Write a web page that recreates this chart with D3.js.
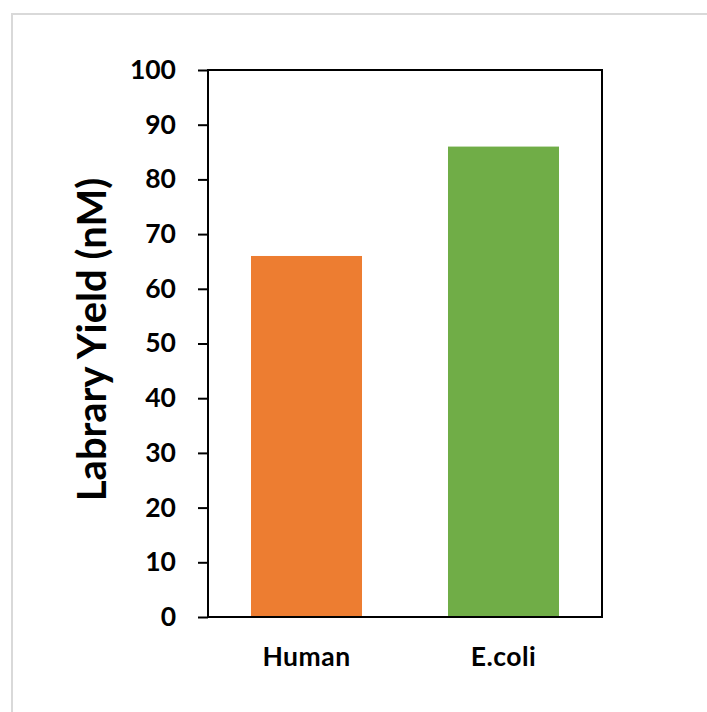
<!DOCTYPE html>
<html>
<head>
<meta charset="utf-8">
<script src="https://cdn.jsdelivr.net/npm/d3@7"></script>
<style>
  html, body { margin: 0; padding: 0; background: #fff; }
  svg { display: block; }
  text { font-family: Lato, "Open Sans", sans-serif; font-weight: bold; fill: #000; }
</style>
</head>
<body>
<script>
const categories = ["Human", "E.coli"];
const values = [66, 86];
const barColors = ["#ED7D31", "#70AD47"];
const yTicks = [0, 10, 20, 30, 40, 50, 60, 70, 80, 90, 100];
const yTitle = "Labrary Yield (nM)";

const W = 707, H = 712;
const plot = { left: 208, right: 602, top: 70, bottom: 617 };

const svg = d3.select("body").append("svg").attr("width", W).attr("height", H);

// outer chart border
svg.append("rect")
  .attr("x", 12).attr("y", 14).attr("width", W).attr("height", H)
  .attr("fill", "#fff").attr("stroke", "#d9d9d9").attr("stroke-width", 2);

const x = d3.scaleBand().domain(categories)
  .range([plot.left, plot.right])
  .paddingInner(0.4365).paddingOuter(0.21825);
const y = d3.scaleLinear().domain([0, 100]).range([plot.bottom, plot.top]);

// bars
svg.selectAll("rect.bar").data(categories).enter().append("rect")
  .attr("class", "bar")
  .attr("x", d => x(d))
  .attr("width", x.bandwidth())
  .attr("y", (d, i) => y(values[i]))
  .attr("height", (d, i) => y(0) - y(values[i]))
  .attr("fill", (d, i) => barColors[i]);

// frame
svg.append("rect")
  .attr("x", plot.left).attr("y", plot.top)
  .attr("width", plot.right - plot.left).attr("height", plot.bottom - plot.top)
  .attr("fill", "none").attr("stroke", "#000").attr("stroke-width", 2);

// y axis
const yAxis = d3.axisLeft(y).tickValues(yTicks).tickSize(10).tickPadding(22).tickSizeOuter(0);
const gy = svg.append("g").attr("transform", `translate(${plot.left},0)`).call(yAxis);
gy.select(".domain").remove();
gy.selectAll(".tick line").attr("stroke", "#000").attr("stroke-width", 2);
gy.selectAll(".tick text").style("font-size", "26.5px").style("font-family", "Lato, sans-serif").style("font-weight", "bold");

// x axis labels
const xAxis = d3.axisBottom(x).tickSize(0).tickPadding(30);
const gx = svg.append("g").attr("transform", `translate(0,${plot.bottom})`).call(xAxis);
gx.select(".domain").remove();
gx.selectAll(".tick text").style("font-size", "26.5px").style("font-family", "Lato, sans-serif").style("font-weight", "bold")
  .style("letter-spacing", "0.5px");

// y title
svg.append("text")
  .attr("transform", `translate(${106},${(plot.top + plot.bottom) / 2 - 4}) rotate(-90)`)
  .attr("text-anchor", "middle")
  .style("font-size", "40px")
  .text(yTitle);
</script>
</body>
</html>
